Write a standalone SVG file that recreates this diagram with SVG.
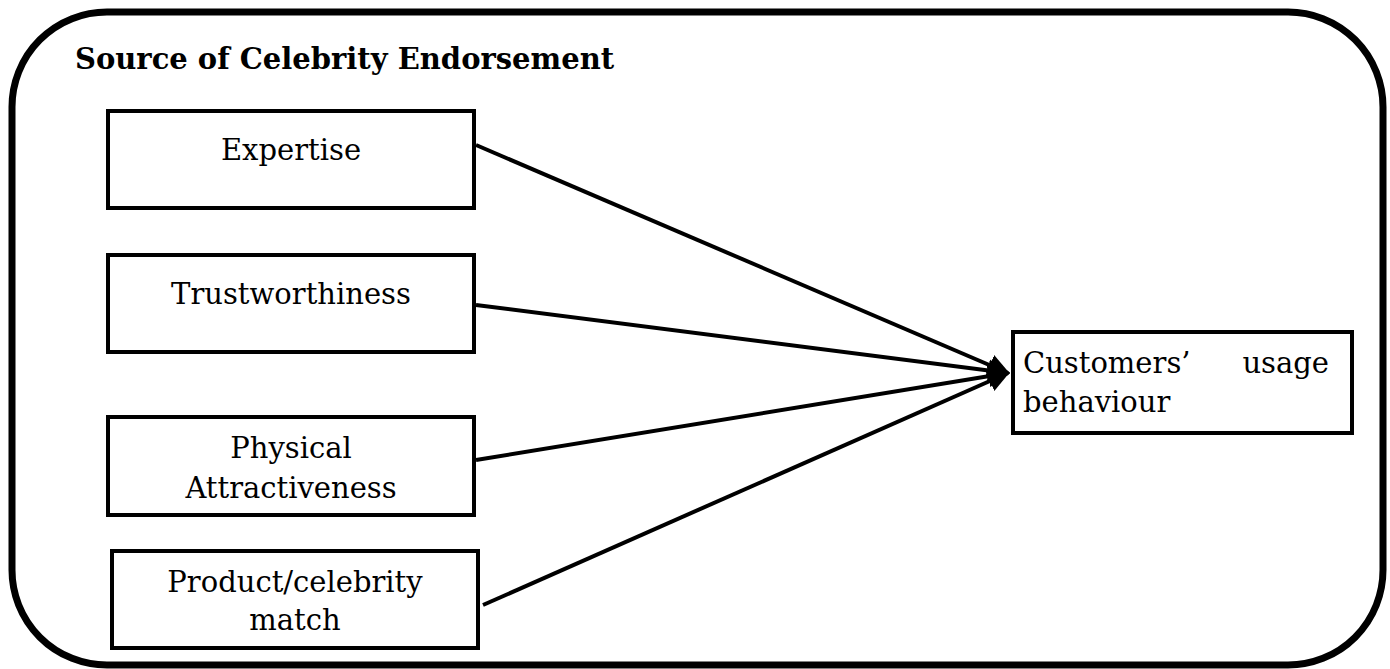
<svg xmlns="http://www.w3.org/2000/svg" width="1390" height="669" viewBox="0 0 1390 669">
<defs>
<style>
.box{fill:#fff;stroke:#000;stroke-width:4}
.t{font-family:"DejaVu Serif","Liberation Serif",serif;font-size:29px;fill:#000}
.c{text-anchor:middle}
.e{stroke:#000;stroke-width:4;fill:none}
</style>
<marker id="ah" viewBox="0 0 10 10" refX="9" refY="5" markerWidth="5.5" markerHeight="6.5" orient="auto" markerUnits="strokeWidth">
<path d="M0,0 L10,5 L0,10 z" fill="#000"/>
</marker>
</defs>
<rect x="12" y="12" width="1371" height="653" rx="95" ry="95" fill="#fff" stroke="#000" stroke-width="7"/>
<text x="75" y="69" class="t" style="font-weight:bold;font-size:29px">Source of Celebrity Endorsement</text>
<g id="n1"><rect class="box" x="108" y="111" width="366" height="97"/><text class="t c" x="291" y="160">Expertise</text></g>
<g id="n2"><rect class="box" x="108" y="255" width="366" height="97"/><text class="t c" x="291" y="304">Trustworthiness</text></g>
<g id="n3"><rect class="box" x="108" y="417" width="366" height="98"/><text class="t c" x="291" y="458">Physical</text><text class="t c" x="291" y="498">Attractiveness</text></g>
<g id="n4"><rect class="box" x="112" y="551" width="366" height="97"/><text class="t c" x="295" y="592">Product/celebrity</text><text class="t c" x="295" y="630">match</text></g>
<g id="n5"><rect class="box" x="1013" y="332" width="339" height="101"/><text class="t" x="1023" y="373">Customers’</text><text class="t" x="1329" y="373" text-anchor="end">usage</text><text class="t" x="1023" y="412">behaviour</text></g>
<g id="edges">
<line class="e" x1="476" y1="145" x2="1008" y2="373" marker-end="url(#ah)"/>
<line class="e" x1="476" y1="305" x2="1008" y2="373" marker-end="url(#ah)"/>
<line class="e" x1="476" y1="460" x2="1008" y2="373" marker-end="url(#ah)"/>
<line class="e" x1="483" y1="605" x2="1008" y2="373" marker-end="url(#ah)"/>
</g>
</svg>
